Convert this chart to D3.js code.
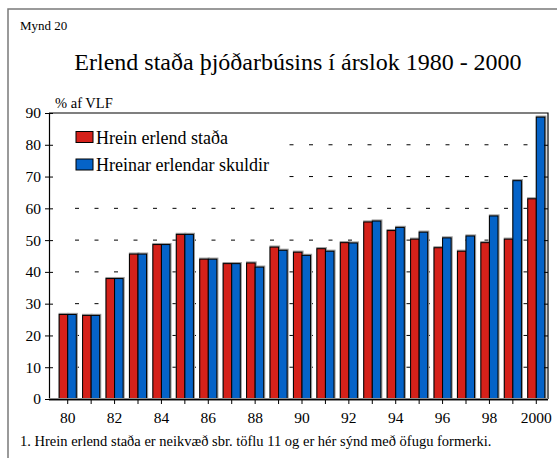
<!DOCTYPE html>
<html>
<head>
<meta charset="utf-8">
<script src="https://cdn.jsdelivr.net/npm/d3@7"></script>
<style>
  html, body { margin: 0; padding: 0; background: #fff; }
  svg { display: block; }
  text { font-family: "Liberation Serif", "Times New Roman", serif; fill: #000; }
</style>
</head>
<body>
<script>
// ---- data ----
const years = ["1980","1981","1982","1983","1984","1985","1986","1987","1988","1989","1990",
               "1991","1992","1993","1994","1995","1996","1997","1998","1999","2000"];
const netPosition = [26.6, 26.3, 37.9, 45.6, 48.6, 51.8, 44.0, 42.6, 42.8, 47.8, 46.2,
                     47.3, 49.2, 55.7, 53.0, 50.3, 47.6, 46.5, 49.2, 50.3, 63.0];
const netDebt     = [26.6, 26.3, 37.9, 45.6, 48.6, 51.8, 44.0, 42.6, 41.5, 46.8, 45.2,
                     46.5, 49.1, 56.0, 54.0, 52.5, 50.7, 51.3, 57.6, 68.7, 88.7];
const xTickYears  = ["1980","1982","1984","1986","1988","1990","1992","1994","1996","1998","2000"];
const xTickLabels = ["80","82","84","86","88","90","92","94","96","98","2000"];
const yTicks = [0,10,20,30,40,50,60,70,80,90];
const seriesNames = ["Hrein erlend staða", "Hreinar erlendar skuldir"];
const colors = ["#d5211a", "#0563c8"];

const W = 557, H = 458;
const svg = d3.select("body").append("svg").attr("width", W).attr("height", H);

// frame
svg.append("path").attr("d", `M8,${H} L8,9 L${W},9`)
  .attr("fill", "none").attr("stroke", "#7a7a7a").attr("stroke-width", 1.5);

svg.append("text").attr("x", 20).attr("y", 30).style("font-size", "13px").text("Mynd 20");
svg.append("text").attr("x", 298).attr("y", 70).attr("text-anchor", "middle")
  .style("font-size", "24px").text("Erlend staða þjóðarbúsins í árslok 1980 - 2000");
svg.append("text").attr("x", 55).attr("y", 108).style("font-size", "14.5px").text("% af VLF");

const pL = 49, pR = 548, pT = 113, pB = 399;
const x = d3.scaleBand().domain(years).range([56, 548]).paddingInner(0.27).paddingOuter(0.135);
const y = d3.scaleLinear().domain([0, 90]).range([pB, pT]);

// gridlines (dashed)
svg.append("g").selectAll("line").data(yTicks.filter(d => d > 0 && d < 90)).join("line")
  .attr("x1", 75).attr("x2", 545).attr("y1", d => y(d)).attr("y2", d => y(d))
  .attr("stroke", "#000").attr("stroke-width", 1).attr("stroke-dasharray", "4,15.5");

// bars
const data = years.map((yr, i) => ({ yr, v: [netPosition[i], netDebt[i]] }));
const bw = x.bandwidth() / 2;
const g = svg.append("g");
data.forEach(d => {
  d.v.forEach((v, k) => {
    const bx = x(d.yr) + k * bw;
    g.append("rect").attr("x", bx + 0.5).attr("y", y(v) - 0.5)
      .attr("width", bw).attr("height", pB - y(v))
      .attr("fill", "none").attr("stroke", "#9a9a9a").attr("stroke-width", 2.2);
  });
  d.v.forEach((v, k) => {
    const bx = x(d.yr) + k * bw;
    g.append("rect").attr("x", bx).attr("y", y(v))
      .attr("width", bw).attr("height", pB - y(v))
      .attr("fill", colors[k]).attr("stroke", "#000").attr("stroke-width", 1);
  });
});

// legend
svg.append("rect").attr("x", 52).attr("y", 121).attr("width", 232).attr("height", 66).attr("fill", "#fff");
seriesNames.forEach((name, i) => {
  const ly = 131.5 + i * 27.5;
  svg.append("rect").attr("x", 76).attr("y", ly).attr("width", 17).attr("height", 11)
    .attr("fill", colors[i]).attr("stroke", "#000").attr("stroke-width", 1);
  svg.append("text").attr("x", 96).attr("y", ly + 12).style("font-size", "18px").text(name);
});

// plot frame: top and right
svg.append("path").attr("d", `M${pL},${pT} L${pR},${pT} L${pR},${pB}`)
  .attr("fill", "none").attr("stroke", "#000").attr("stroke-width", 1.2);

// left axis
const yAxis = d3.axisLeft(y).tickValues(yTicks).tickSize(4).tickPadding(4);
const ya = svg.append("g").attr("transform", `translate(${pL},0)`).call(yAxis);
ya.attr("font-family", null);
ya.select(".domain").attr("stroke", "#000").attr("stroke-width", 1.2);
ya.selectAll(".tick line").attr("x2", -4).attr("x1", 4);
ya.selectAll("text").style("font-size", "15.5px");

// right inward ticks
const yRAxis = d3.axisLeft(y).tickValues(yTicks.filter(d => d > 0 && d < 90)).tickSize(4).tickFormat("");
const yRg = svg.append("g").attr("transform", `translate(${pR},0)`).call(yRAxis);
yRg.select(".domain").remove();

// bottom axis
svg.append("line").attr("x1", pL).attr("x2", pR).attr("y1", pB + 0.5).attr("y2", pB + 0.5)
  .attr("stroke", "#8a8a8a").attr("stroke-width", 3);
const xAxis = d3.axisBottom(x).tickValues(years).tickSize(5).tickPadding(8)
  .tickFormat(d => { const i = xTickYears.indexOf(d); return i >= 0 ? xTickLabels[i] : ""; });
const xa = svg.append("g").attr("transform", `translate(0,${pB})`).call(xAxis);
xa.attr("font-family", null);
xa.select(".domain").attr("d", `M${pL},0.5H${pR}`).attr("stroke", "#000").attr("stroke-width", 1.2);
xa.selectAll("text").style("font-size", "15.5px");

svg.append("text").attr("x", 20).attr("y", 446).style("font-size", "14.5px")
  .text("1. Hrein erlend staða er neikvæð sbr. töflu 11 og er hér sýnd með öfugu formerki.");
</script>
</body>
</html>
